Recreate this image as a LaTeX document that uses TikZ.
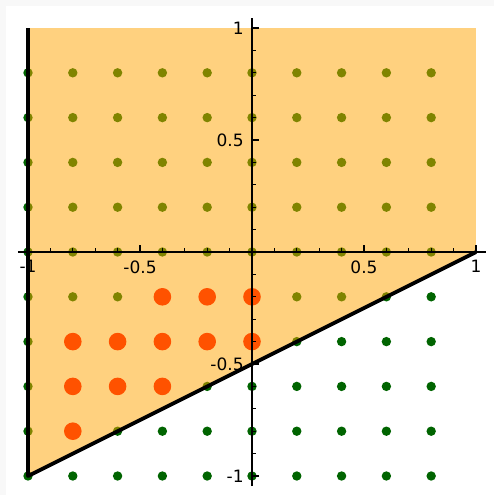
\documentclass[tikz,border=0pt]{standalone}
\usepackage{fontspec}
\setmainfont{DejaVu Sans}
\usepackage{tikz}
\usetikzlibrary{positioning}
\definecolor{LatGreen}{RGB}{0,100,0}
\definecolor{LatRed}{RGB}{255,0,0}
\definecolor{LatOrange}{RGB}{255,165,0}
\definecolor{LatFrame}{RGB}{248,248,248}
\tikzset{
  lat/dot/.style={fill=LatGreen, radius=2.35pt},
  lat/hit/.style={fill=LatRed, radius=4.4pt},
  lat/region/.style={fill=LatOrange, fill opacity=0.5},
  lat/edge/.style={draw=black, line width=1.9pt, line join=round},
  lat/axis/.style={draw=black, line width=0.7pt},
  lat/tick/.style={draw=black, line width=0.6pt},
  lat/label/.style={inner sep=0pt, font=\fontsize{8.5}{10}\selectfont}
}

\begin{document}
\begin{tikzpicture}[x=112pt,y=112pt]
  \useasboundingbox (-126pt,126pt) rectangle (121pt,-121.5pt);
  \fill[LatFrame] (-126pt,126pt) rectangle (121pt,-121.5pt);
  \fill[white] (-123pt,123pt) rectangle (121pt,-121.5pt);
  \foreach \i in {0,...,9}
    \foreach \j in {0,...,9}
      \fill[lat/dot] ({-1+0.2*\i},{-1+0.2*\j}) circle;
  \foreach \x/\y in {-0.4/-0.2,-0.2/-0.2,0/-0.2,
                     -0.8/-0.4,-0.6/-0.4,-0.4/-0.4,-0.2/-0.4,0/-0.4,
                     -0.8/-0.6,-0.6/-0.6,-0.4/-0.6,
                     -0.8/-0.8}
    \fill[lat/hit] (\x,\y) circle;
  \fill[lat/region] (-1,1) -- (1,1) -- (1,0) -- (-1,-1) -- cycle;
  \draw[lat/axis] (-1.045,0) -- (1.045,0);
  \draw[lat/axis] (0,-1.045) -- (0,1.045);
  \foreach \t in {-10,...,10} {
    \draw[lat/tick] ({\t/10},0) -- ++(0,2pt);
    \draw[lat/tick] (0,{\t/10}) -- ++(2pt,0);
  }
  \foreach \t in {-1,-0.5,0.5,1} {
    \draw[lat/tick] (\t,0) -- ++(0,3.5pt);
    \draw[lat/tick] (0,\t) -- ++(3.5pt,0);
  }
  \draw[lat/edge] (-1,1) -- (-1,-1) -- (1,0);
  \foreach \v/\n in {-1/m1,-0.5/mh,0.5/ph,1/p1} {
    \node[lat/label, anchor=north, yshift=-4pt] (xlab-\n) at (\v,0) {\v};
    \node[lat/label, anchor=east, xshift=-4pt] (ylab-\n) at (0,\v) {\v};
  }
\end{tikzpicture}
\end{document}
